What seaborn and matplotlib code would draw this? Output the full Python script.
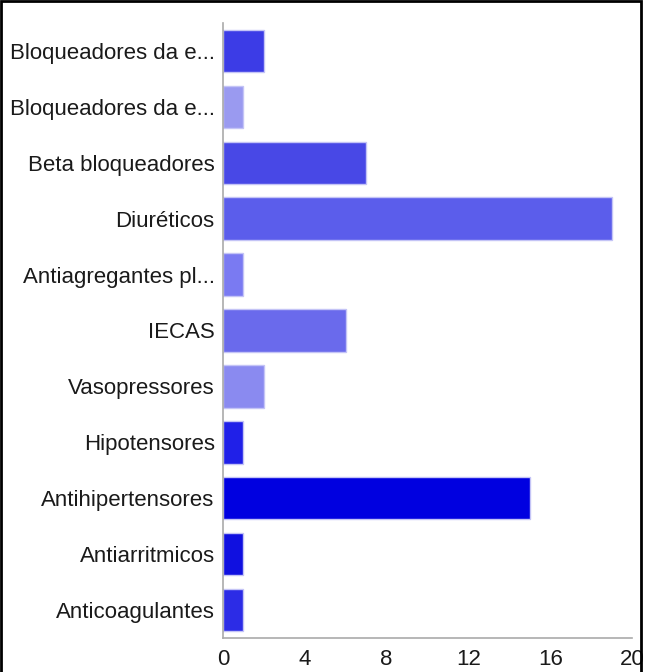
import pandas as pd
import seaborn as sns
import matplotlib.pyplot as plt
from matplotlib.patches import Rectangle

# Chart data
categories = ['Bloqueadores da e...', 'Bloqueadores da e...', 'Beta bloqueadores', 'Diuréticos',
              'Antiagregantes pl...', 'IECAS', 'Vasopressores', 'Hipotensores',
              'Antihipertensores', 'Antiarritmicos', 'Anticoagulantes']
counts = [2, 1, 7, 19, 1, 6, 2, 1, 15, 1, 1]
bar_colors = ['#3c3ce6', '#9a9af0', '#4848e6', '#5b5deb', '#7a7af2', '#6a6aec',
              '#8a8af0', '#2020e8', '#0000e0', '#1010e0', '#2c2ce6']
x_ticks = [0, 4, 8, 12, 16, 20]

# two rows share the same (truncated) label, so key the rows by position
df = pd.DataFrame({'row': [str(i) for i in range(len(categories))], 'count': counts})

sns.set_style('white')
plt.rcParams['font.family'] = ['Liberation Sans', 'DejaVu Sans']

fig = plt.figure(figsize=(6.46, 6.72), dpi=100)
ax = fig.add_axes([223 / 646, 1 - 638 / 672, (632 - 223) / 646, (638 - 23) / 672])

sns.barplot(data=df, y='row', x='count', hue='row', palette=bar_colors, saturation=1,
            legend=False, width=0.76, edgecolor='#c4c4f6', linewidth=1, ax=ax)

ax.set_yticks(range(len(categories)))
ax.set_yticklabels(categories)
ax.set_xlim(0, 20)
ax.set_xticks(x_ticks)
ax.set_xticklabels([str(t) for t in x_ticks])
ax.set_xlabel('')
ax.set_ylabel('')
ax.tick_params(axis='both', labelsize=16, colors='#aaaaaa', labelcolor='#1a1a1a',
               length=5, width=1, pad=1)
ax.tick_params(axis='x', length=4, pad=4)

for side in ['top', 'right']:
    ax.spines[side].set_visible(False)
for side in ['left', 'bottom']:
    ax.spines[side].set_color('#aaaaaa')
    ax.spines[side].set_linewidth(1.2)

# black frame around the figure (bottom edge is cut off in the original)
fig.patches.append(Rectangle((0.002, -0.05), 0.991, 1.049, transform=fig.transFigure,
                             fill=False, edgecolor='black', linewidth=2))

fig.savefig('out.png', dpi=100)
